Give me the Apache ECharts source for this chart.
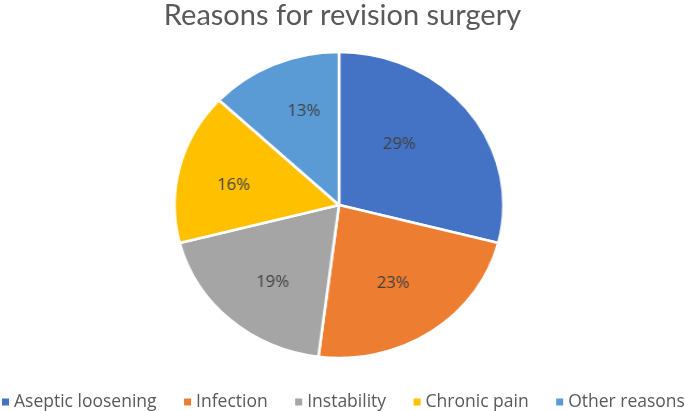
<!DOCTYPE html>
<html><head><meta charset="utf-8">
<script src="https://cdn.jsdelivr.net/npm/echarts@6/dist/echarts.min.js"></script>
<style>
html,body{margin:0;padding:0;background:#fff}
#wrap{position:relative;width:685px;height:411px;overflow:hidden}
#pie,#c{position:absolute;left:0;top:0;width:685px;height:411px}
#pie{transform:scaleX(1.075);transform-origin:339px 205px}
</style>
</head><body><div id="wrap"><div id="pie"></div><div id="c"></div></div>
<script>
const categories = ["Aseptic loosening", "Infection", "Instability", "Chronic pain", "Other reasons"];
const values = [29, 23, 19, 16, 13];
const colors = ["#4472C4", "#ED7D31", "#A5A5A5", "#FFC000", "#5B9BD5"];

// label nudges (style only)
const labelNudge = [[-19, -2], [-3, 0], [1, 6], [-6, 4], [5, -6]];

const pieData = categories.map((c, i) => ({name: c, value: values[i], itemStyle: {color: colors[i]}}));

const pie = echarts.init(document.getElementById('pie'));
pie.setOption({
  animation: false,
  series: [{
    type: 'pie',
    center: [339, 205],
    radius: 153,
    startAngle: 90,
    clockwise: true,
    data: pieData,
    itemStyle: {borderColor: '#fff', borderWidth: 2.5},
    label: {show: false},
    labelLine: {show: false}
  }, {
    type: 'pie',
    center: [339, 205],
    radius: [31, 153],
    startAngle: 90,
    clockwise: true,
    silent: true,
    data: categories.map((c, i) => ({name: c, value: values[i], label: {offset: labelNudge[i]}})),
    itemStyle: {color: 'rgba(0,0,0,0)', borderWidth: 0},
    label: {
      position: 'inside',
      formatter: '{c}%',
      fontFamily: 'Open Sans', fontSize: 15.5, color: '#404040'
    },
    labelLine: {show: false}
  }]
});

const chart = echarts.init(document.getElementById('c'));
chart.setOption({
  animation: false,
  title: {
    text: "Reasons for revision surgery",
    left: 'center', top: -4,
    textStyle: {fontFamily: 'Lato', fontSize: 29, fontWeight: 'normal', color: '#595959'}
  },
  legend: {
    bottom: 0, left: 2, width: 683, padding: 0,
    icon: 'rect', itemWidth: 7, itemHeight: 7, itemGap: 27.5,
    textStyle: {fontFamily: 'Open Sans', fontSize: 17.5, color: '#595959'},
    data: categories
  },
  series: [{
    type: 'pie',
    radius: 0,
    center: [-100, -100],
    data: pieData,
    label: {show: false},
    labelLine: {show: false}
  }]
});
</script></body></html>
